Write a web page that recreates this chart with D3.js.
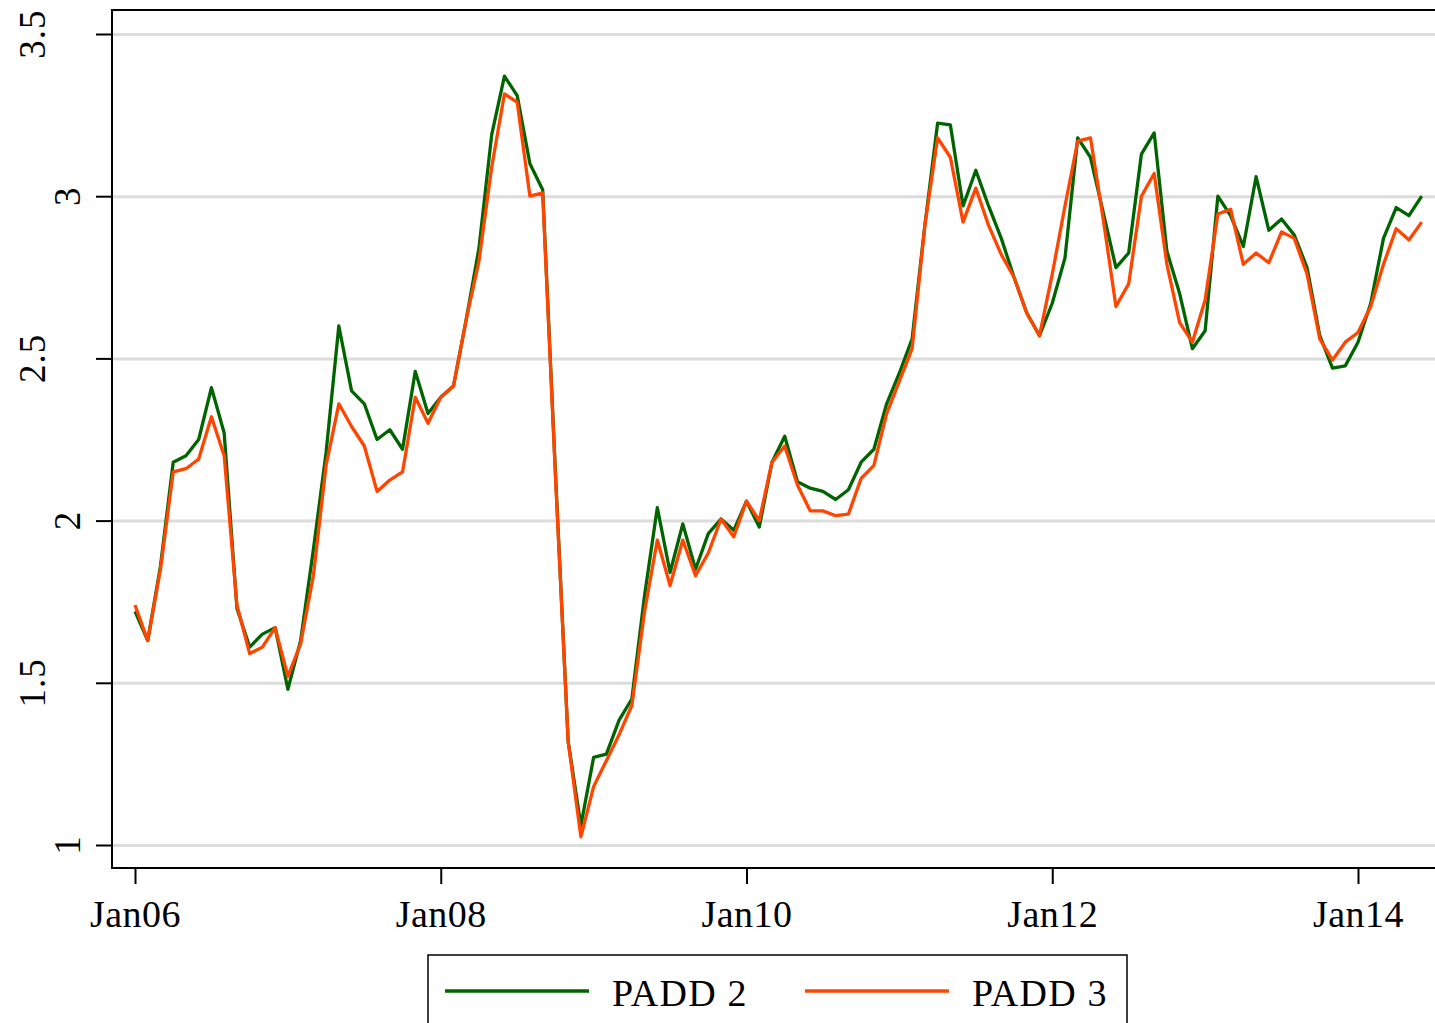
<!DOCTYPE html>
<html>
<head>
<script src="https://cdn.jsdelivr.net/npm/d3@7"></script>
<meta charset="utf-8">
<title>PADD 2 vs PADD 3</title>
<style>
  body { margin: 0; background: white; }
  text { font-family: "Liberation Serif", "Times New Roman", serif; fill: black; }
  .grid line { stroke: #dcdcdc; stroke-width: 3; }
  .grid path { display: none; }
  .axis path, .axis line { stroke: black; stroke-width: 2; }
  path.series { fill: none; stroke-width: 3.3; stroke-linejoin: round; }
</style>
</head>
<body>
<script type="text/javascript">

// monthly series, Jan 2006 .. Jun 2014
var padd2 = [
  1.72, 1.63, 1.86, 2.18, 2.20, 2.25, 2.41, 2.27, 1.73, 1.61, 1.65, 1.67,
  1.48, 1.63, 1.91, 2.21, 2.60, 2.40, 2.36, 2.25, 2.28, 2.22, 2.46, 2.33,
  2.38, 2.415, 2.62, 2.84, 3.19, 3.37, 3.31, 3.10, 3.02, 2.15, 1.32, 1.06,
  1.27, 1.28, 1.385, 1.45, 1.77, 2.04, 1.84, 1.99, 1.85, 1.96, 2.005, 1.97,
  2.06, 1.98, 2.18, 2.26, 2.12, 2.10, 2.09, 2.065, 2.095, 2.18, 2.22, 2.36,
  2.455, 2.56, 2.91, 3.225, 3.22, 2.97, 3.08, 2.97, 2.87, 2.75, 2.64, 2.57,
  2.67, 2.81, 3.18, 3.12, 2.95, 2.78, 2.825, 3.13, 3.195, 2.83, 2.70, 2.53,
  2.585, 3.00, 2.94, 2.845, 3.06, 2.895, 2.93, 2.88, 2.78, 2.57, 2.47, 2.477,
  2.55, 2.67, 2.87, 2.965, 2.94, 3.00
];

var padd3 = [
  1.74, 1.63, 1.85, 2.15, 2.16, 2.19, 2.32, 2.20, 1.74, 1.59, 1.61, 1.67,
  1.52, 1.62, 1.83, 2.17, 2.36, 2.29, 2.23, 2.09, 2.125, 2.15, 2.38, 2.30,
  2.38, 2.415, 2.62, 2.80, 3.09, 3.315, 3.29, 3.00, 3.01, 2.14, 1.32, 1.025,
  1.18, 1.26, 1.34, 1.43, 1.72, 1.94, 1.80, 1.94, 1.83, 1.90, 2.005, 1.95,
  2.06, 2.00, 2.18, 2.23, 2.11, 2.03, 2.03, 2.015, 2.02, 2.13, 2.17, 2.33,
  2.43, 2.53, 2.91, 3.18, 3.12, 2.92, 3.025, 2.91, 2.82, 2.75, 2.64, 2.57,
  2.76, 2.97, 3.17, 3.18, 2.93, 2.66, 2.73, 3.00, 3.07, 2.79, 2.61, 2.55,
  2.68, 2.945, 2.96, 2.79, 2.825, 2.795, 2.89, 2.87, 2.76, 2.56, 2.495, 2.55,
  2.58, 2.66, 2.79, 2.90, 2.865, 2.92
];

var xTickMonths = [0, 24, 48, 72, 96];
var xTickLabels = ["Jan06", "Jan08", "Jan10", "Jan12", "Jan14"];
var yTicks = [1, 1.5, 2, 2.5, 3, 3.5];
var seriesNames = ["PADD 2", "PADD 3"];
var colors = ["#006400", "#ff4500"];

var width = 1435,
    height = 1023;

var plot = {left: 112, top: 10, right: 1440, bottom: 868};

var x = d3.scaleLinear().domain([0, 96]).range([135, 1358]);
var y = d3.scaleLinear().domain([1, 3.5]).range([845, 34]);

var svg = d3.select("body").append("svg")
    .attr("width", width)
    .attr("height", height);

// gridlines
svg.append("g")
    .attr("class", "grid")
    .attr("transform", "translate(" + plot.left + ",0)")
    .call(d3.axisLeft(y).tickValues(yTicks).tickSize(-(plot.right - plot.left)).tickFormat(""));

// series
var line = d3.line()
    .x(function(d, i) { return x(i); })
    .y(function(d) { return y(d); });

[padd2, padd3].forEach(function(s, k) {
  svg.append("path")
      .datum(s)
      .attr("class", "series")
      .attr("d", line)
      .style("stroke", colors[k]);
});

// frame
svg.append("rect")
    .attr("x", plot.left)
    .attr("y", plot.top)
    .attr("width", plot.right - plot.left)
    .attr("height", plot.bottom - plot.top)
    .style("fill", "none")
    .style("stroke", "black")
    .style("stroke-width", 2);

// y axis
var yAxis = svg.append("g")
    .attr("class", "axis")
    .attr("transform", "translate(" + plot.left + ",0)")
    .call(d3.axisLeft(y).tickValues(yTicks).tickSize(16).tickSizeOuter(0).tickFormat(d3.format("")));
yAxis.select(".domain").remove();
yAxis.selectAll(".tick text").remove();

svg.selectAll("text.ylab")
    .data(yTicks).enter().append("text")
    .attr("class", "ylab")
    .attr("transform", function(d) {
      var lab = d3.format("")(d);
      var bx = 80 - (lab.length - 1) * 17.5;
      return "translate(" + bx + "," + y(d) + ") rotate(-90)";
    })
    .attr("text-anchor", "middle")
    .style("font-size", "37px")
    .style("letter-spacing", "1px")
    .text(function(d) { return d3.format("")(d); });

// x axis
var xAxis = svg.append("g")
    .attr("class", "axis")
    .attr("transform", "translate(0," + plot.bottom + ")")
    .call(d3.axisBottom(x).tickValues(xTickMonths).tickSize(16).tickSizeOuter(0)
      .tickFormat(function(d, i) { return xTickLabels[i]; }));
xAxis.select(".domain").remove();
xAxis.selectAll(".tick text")
    .attr("y", 59)
    .attr("dy", 0)
    .style("font-size", "38px")
    .style("letter-spacing", "0.5px")
    .style("font-family", "Liberation Serif, serif");

// legend
var legend = svg.append("g");
legend.append("rect")
    .attr("x", 428).attr("y", 955)
    .attr("width", 699).attr("height", 100)
    .style("fill", "white")
    .style("stroke", "black")
    .style("stroke-width", 1.5);

var legX = [445, 805];
seriesNames.forEach(function(name, k) {
  legend.append("line")
      .attr("x1", legX[k]).attr("x2", legX[k] + 144)
      .attr("y1", 991).attr("y2", 991)
      .style("stroke", colors[k])
      .style("stroke-width", 3.5);
  legend.append("text")
      .attr("x", legX[k] + 167)
      .attr("y", 1006)
      .style("font-size", "38px")
      .style("letter-spacing", "1.2px")
      .text(name);
});

</script>
</body>
</html>
